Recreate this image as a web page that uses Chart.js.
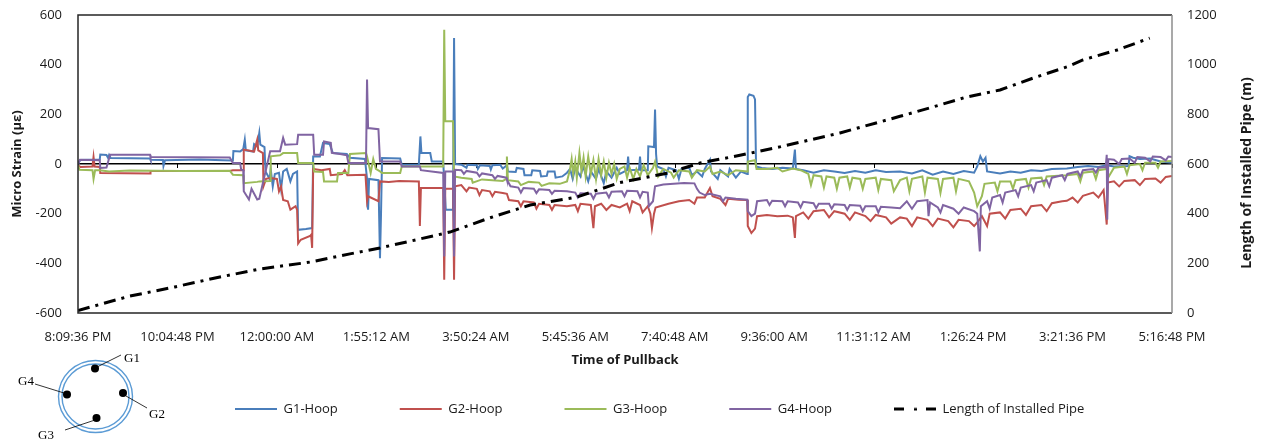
<!DOCTYPE html>
<html>
<head>
<meta charset="utf-8">
<script src="https://cdn.jsdelivr.net/npm/chart.js@4.4.1/dist/chart.umd.min.js"></script>
<style>
  body { margin: 0; background: #fff; }
  #wrap { position: relative; width: 1267px; height: 441px; }
  #pipe { position: absolute; left: 0; top: 0; }
</style>
</head>
<body>
<div id="wrap">
  <canvas id="pullback" width="1267" height="441"></canvas>
  <svg id="pipe" width="200" height="441" font-family="'Liberation Serif', serif" font-size="13">
    <ellipse cx="95.5" cy="396.5" rx="37" ry="36" fill="none" stroke="#5b9bd5" stroke-width="1.4"/>
    <ellipse cx="95.5" cy="396.5" rx="33.5" ry="32.5" fill="none" stroke="#5b9bd5" stroke-width="1.4"/>
    <circle cx="95" cy="368.5" r="4" fill="#000"/>
    <circle cx="123" cy="393" r="4" fill="#000"/>
    <circle cx="96.5" cy="418" r="4" fill="#000"/>
    <circle cx="67" cy="394.5" r="4" fill="#000"/>
    <g stroke="#000" stroke-width="0.8">
      <line x1="97" y1="367" x2="121" y2="355"/>
      <line x1="126" y1="396" x2="147" y2="408"/>
      <line x1="95" y1="420" x2="65" y2="430"/>
      <line x1="64" y1="393" x2="35" y2="384"/>
    </g>
    <text x="124" y="362">G1</text>
    <text x="149" y="418">G2</text>
    <text x="38" y="439">G3</text>
    <text x="18" y="385">G4</text>
  </svg>
</div>
<script>
// time axis: hours elapsed since 8:09:36 PM (20.16 h)
const startHour = 20.16;
const timeStep = 1.92;   // 1:55:12 between labels
const timeSpan = 21.12;

// [elapsed hours, micro strain]
const g1Hoop = [
  [0.00, 0], [0.04, 16], [0.42, 18], [0.43, 38], [0.55, 36], [0.58, 25], [0.60, 36], [0.63, 24],
  [1.39, 22], [1.40, 17], [1.64, 16], [1.65, -8], [1.68, 15], [2.36, 18], [2.80, 15], [2.99, 14],
  [3.00, 52], [3.13, 50], [3.19, 60], [3.22, 98], [3.24, 55], [3.38, 50], [3.40, 80], [3.46, 70],
  [3.50, 125], [3.52, 78], [3.60, 68], [3.62, -30], [3.70, -60], [3.72, -20], [3.76, -90], [3.80, -40],
  [3.88, -35], [3.92, -100], [3.96, -30], [4.03, -20], [4.10, -70], [4.15, -40], [4.23, -30],
  [4.25, -265], [4.40, -262], [4.52, -258], [4.54, 30], [4.67, 30], [4.73, 85], [4.86, 80], [4.92, 44],
  [5.19, 40], [5.25, 25], [5.54, 20], [5.58, -60], [5.60, -184], [5.62, -60], [5.80, -65], [5.83, -379],
  [5.85, -200], [5.87, 24], [6.22, 22], [6.25, -3], [6.58, -3], [6.61, 111], [6.63, 44], [6.80, 44],
  [6.83, 10], [7.05, 10], [7.10, -184], [7.24, -184], [7.26, 507], [7.28, 0], [7.40, -3], [7.50, -15],
  [7.52, -3], [7.70, -5], [7.72, -20], [7.76, -5], [7.95, -8], [7.97, -22], [8.00, -5], [8.15, -3],
  [8.20, -18], [8.28, -5], [8.30, -30], [8.45, -32], [8.47, -16], [8.60, -20], [8.62, -45], [8.75, -45],
  [8.77, -25], [8.92, -28], [8.94, -50], [9.05, -48], [9.07, -30], [9.20, -30], [9.22, -55], [9.35, -50],
  [9.44, -35], [9.50, -20], [9.55, -60], [9.60, -15], [9.70, -50], [9.75, -10], [9.85, -70], [9.90, -30],
  [10.00, -60], [10.05, -20], [10.15, -77], [10.20, -30], [10.30, -55], [10.40, -15], [10.46, -40],
  [10.60, -25], [10.62, 30], [10.64, -25], [10.83, -23], [10.85, 30], [10.87, -25], [11.00, -25],
  [11.01, 71], [11.12, 68], [11.14, 219], [11.16, 40], [11.18, -10], [11.30, -20], [11.35, -50],
  [11.40, -15], [11.55, -25], [11.60, -60], [11.65, -20], [11.80, -15], [11.85, -45], [11.95, -30],
  [12.05, -50], [12.10, -20], [12.20, 17], [12.22, -30], [12.35, -60], [12.40, -25], [12.55, -50],
  [12.58, -20], [12.70, -55], [12.80, -30], [12.92, -40], [12.93, 270], [12.96, 280], [13.04, 275],
  [13.07, 260], [13.09, -10], [13.20, -16], [13.40, -20], [13.60, -15], [13.80, -18], [13.84, 58],
  [13.86, -20], [14.00, -25], [14.20, -35], [14.40, -25], [14.60, -30], [14.80, -36], [15.00, -28],
  [15.20, -35], [15.40, -25], [15.60, -32], [15.87, -30], [16.10, -38], [16.30, -25], [16.50, -43],
  [16.70, -30], [16.90, -40], [17.10, -28], [17.30, -35], [17.36, -10], [17.42, 31], [17.47, 10],
  [17.52, 25], [17.55, -30], [17.80, -38], [18.00, -30], [18.20, -35], [18.40, -25], [18.60, -28],
  [18.80, -20], [19.09, -18], [19.30, -12], [19.50, -8], [19.70, -12], [19.86, -5], [20.00, -10],
  [20.28, -8], [20.30, 31], [20.37, 25], [20.50, 20], [20.70, 22], [20.90, 10], [21.12, 5]
];

const g2Hoop = [
  [0.00, -5], [0.05, -12], [0.28, -10], [0.30, 28], [0.32, -10], [0.42, -12], [0.43, -36], [1.39, -38],
  [1.40, -28], [2.93, -28], [2.99, -25], [3.19, -25], [3.20, 58], [3.40, 50], [3.46, 98], [3.48, 55],
  [3.57, 44], [3.58, -90], [3.63, -60], [3.71, -56], [3.84, -60], [3.88, -110], [3.92, -90], [3.96, -145],
  [4.05, -150], [4.10, -184], [4.20, -170], [4.23, -185], [4.25, -320], [4.30, -305], [4.48, -290],
  [4.50, -285], [4.52, -338], [4.54, -20], [4.70, -25], [4.86, -20], [4.88, -45], [5.10, -40],
  [5.15, -25], [5.20, -45], [5.55, -43], [5.58, -150], [5.60, -130], [5.80, -150], [5.83, -70],
  [6.00, -72], [6.20, -68], [6.58, -70], [6.60, -250], [6.62, -97], [7.05, -97], [7.07, -466],
  [7.09, -100], [7.24, -100], [7.26, -466], [7.28, -90], [7.40, -85], [7.50, -110], [7.55, -95],
  [7.70, -100], [7.75, -125], [7.80, -105], [7.95, -110], [8.00, -130], [8.05, -112], [8.20, -117],
  [8.28, -120], [8.32, -145], [8.50, -150], [8.55, -170], [8.60, -150], [8.80, -155], [8.85, -180],
  [8.90, -160], [9.10, -165], [9.15, -185], [9.20, -165], [9.44, -170], [9.60, -165], [9.65, -190],
  [9.70, -160], [9.90, -165], [9.95, -258], [9.98, -170], [10.10, -160], [10.20, -185], [10.30, -165],
  [10.46, -175], [10.60, -160], [10.65, -190], [10.70, -150], [10.85, -165], [10.90, -195], [11.00, -170],
  [11.05, -200], [11.08, -258], [11.12, -200], [11.15, -175], [11.40, -160], [11.60, -150], [11.80, -145],
  [11.90, -160], [11.95, -135], [12.10, -135], [12.20, -97], [12.25, -130], [12.40, -140], [12.50, -165],
  [12.55, -140], [12.75, -144], [12.92, -145], [12.93, -250], [13.00, -278], [13.07, -260], [13.11, -210],
  [13.30, -205], [13.50, -210], [13.70, -208], [13.80, -215], [13.84, -298], [13.86, -210], [14.00, -195],
  [14.10, -220], [14.20, -190], [14.40, -185], [14.50, -215], [14.60, -190], [14.80, -200], [14.90, -225],
  [15.00, -195], [15.20, -210], [15.30, -230], [15.40, -205], [15.60, -215], [15.70, -240], [15.87, -215],
  [16.00, -220], [16.10, -250], [16.20, -215], [16.40, -225], [16.50, -250], [16.60, -220], [16.80, -230],
  [16.90, -255], [17.00, -225], [17.20, -230], [17.30, -250], [17.36, -235], [17.45, -210], [17.55, -250],
  [17.60, -200], [17.80, -195], [17.90, -220], [18.00, -185], [18.20, -180], [18.30, -205], [18.40, -170],
  [18.60, -165], [18.70, -190], [18.80, -158], [19.00, -150], [19.09, -148], [19.20, -135], [19.30, -155],
  [19.40, -128], [19.60, -115], [19.70, -135], [19.80, -105], [19.86, -244], [19.88, -75], [20.00, -70],
  [20.10, -90], [20.20, -68], [20.40, -65], [20.50, -85], [20.60, -60], [20.80, -58], [20.90, -75],
  [21.00, -52], [21.12, -48]
];

const g3Hoop = [
  [0.00, -5], [0.03, -23], [0.28, -25], [0.30, -60], [0.33, -25], [0.42, -25], [0.60, -30], [1.00, -26],
  [2.00, -28], [2.93, -27], [2.99, -43], [3.19, -45], [3.20, -77], [3.46, -72], [3.50, -70], [3.71, -68],
  [3.72, 31], [3.90, 35], [3.96, 44], [4.23, 44], [4.25, 4], [4.54, 4], [4.56, -30], [4.73, -32],
  [4.75, -70], [5.00, -70], [5.02, -36], [5.22, -36], [5.25, 40], [5.56, 44], [5.58, 30], [5.65, -36],
  [5.70, 20], [5.75, -20], [5.83, -30], [5.87, -36], [6.22, -36], [6.25, -10], [7.05, -10], [7.07, 541],
  [7.09, 172], [7.24, 172], [7.26, -50], [7.40, -55], [7.60, -60], [7.62, -75], [7.80, -62], [8.00, -65],
  [8.20, -68], [8.27, -60], [8.28, 30], [8.30, -65], [8.50, -70], [8.55, -85], [8.70, -72], [8.90, -75],
  [8.95, -88], [9.10, -78], [9.30, -80], [9.44, -70], [9.50, -20], [9.53, 20], [9.56, -40], [9.60, 10],
  [9.63, -55], [9.68, 44], [9.72, -30], [9.76, 25], [9.80, -50], [9.85, 30], [9.90, -40], [9.95, 15],
  [10.00, -60], [10.05, 20], [10.10, -45], [10.15, 10], [10.20, -55], [10.25, 5], [10.30, -40], [10.35, 0],
  [10.40, -60], [10.46, -20], [10.55, -10], [10.60, -55], [10.65, -15], [10.72, -60], [10.78, -20],
  [10.85, -50], [10.92, -5], [11.00, -45], [11.10, -15], [11.14, 10], [11.20, -50], [11.30, -20],
  [11.45, -35], [11.50, -55], [11.60, -25], [11.80, -30], [11.85, -55], [11.95, -25], [12.10, -30],
  [12.20, -10], [12.25, -40], [12.40, -30], [12.55, -45], [12.70, -25], [12.92, -30], [12.93, 10],
  [13.07, 15], [13.10, -20], [13.30, -20], [13.50, -15], [13.60, -30], [13.80, -18], [13.95, -25],
  [14.10, -40], [14.15, -85], [14.20, -45], [14.35, -50], [14.40, -95], [14.45, -50], [14.60, -55],
  [14.65, -100], [14.70, -55], [14.85, -50], [14.90, -95], [14.95, -55], [15.10, -60], [15.15, -100],
  [15.20, -60], [15.40, -55], [15.45, -105], [15.50, -60], [15.70, -65], [15.75, -110], [15.87, -65],
  [16.00, -55], [16.05, -110], [16.10, -60], [16.30, -50], [16.35, -115], [16.40, -55], [16.60, -60],
  [16.65, -117], [16.70, -60], [16.90, -55], [16.95, -110], [17.00, -60], [17.20, -70], [17.30, -115],
  [17.36, -170], [17.45, -130], [17.50, -80], [17.70, -75], [17.75, -110], [17.80, -70], [18.00, -70],
  [18.05, -100], [18.10, -65], [18.30, -60], [18.35, -95], [18.40, -58], [18.60, -55], [18.65, -85],
  [18.70, -50], [19.09, -45], [19.30, -40], [19.35, -70], [19.40, -35], [19.60, -30], [19.65, -60],
  [19.70, -25], [19.86, -20], [19.90, -50], [20.00, -15], [20.20, -10], [20.25, -40], [20.30, -5],
  [20.50, 0], [20.55, -25], [20.60, 5], [20.80, 5], [20.85, -15], [20.90, 10], [21.12, 12]
];

const g4Hoop = [
  [0.00, 0], [0.04, 17], [0.42, 15], [0.43, -16], [0.55, -14], [0.62, 37], [1.39, 37], [1.40, 28],
  [2.93, 26], [2.99, 4], [3.13, 4], [3.15, -23], [3.19, -25], [3.20, -110], [3.30, -143], [3.35, -100],
  [3.46, -143], [3.50, -140], [3.71, 51], [3.90, 51], [3.96, 105], [4.00, 78], [4.23, 80], [4.25, 118],
  [4.54, 118], [4.56, 37], [4.73, 37], [4.75, 91], [4.88, 85], [4.90, 45], [5.06, 40], [5.19, 35],
  [5.22, 4], [5.56, 4], [5.58, 340], [5.60, 145], [5.80, 140], [5.83, 10], [6.22, 10], [6.25, -10],
  [6.60, -10], [6.62, -25], [7.05, -36], [7.07, -372], [7.09, -30], [7.24, -30], [7.26, -372], [7.28, -23],
  [7.40, -25], [7.45, -40], [7.50, -28], [7.70, -35], [7.75, -50], [7.80, -38], [8.00, -45], [8.05, -60],
  [8.10, -48], [8.27, -55], [8.28, -63], [8.35, -90], [8.50, -95], [8.55, -115], [8.60, -97], [8.80, -100],
  [8.85, -117], [8.90, -102], [9.10, -105], [9.15, -120], [9.20, -108], [9.44, -110], [9.60, -115],
  [9.65, -135], [9.70, -118], [9.90, -120], [9.95, -140], [10.00, -120], [10.20, -115], [10.25, -135],
  [10.30, -112], [10.50, -110], [10.55, -130], [10.60, -108], [10.80, -110], [10.85, -135], [10.90, -112],
  [11.00, -115], [11.02, -170], [11.10, -150], [11.14, -90], [11.30, -83], [11.50, -80], [11.70, -77],
  [11.90, -78], [11.95, -100], [12.00, -115], [12.10, -125], [12.20, -120], [12.40, -130], [12.45, -150],
  [12.50, -135], [12.70, -140], [12.92, -144], [12.93, -190], [13.00, -210], [13.07, -200], [13.11, -150],
  [13.30, -145], [13.35, -165], [13.40, -148], [13.60, -150], [13.65, -170], [13.70, -150], [13.90, -155],
  [13.95, -175], [14.00, -152], [14.20, -158], [14.25, -178], [14.30, -160], [14.50, -160], [14.55, -180],
  [14.60, -162], [14.80, -165], [14.85, -185], [14.90, -165], [15.10, -168], [15.15, -190], [15.20, -170],
  [15.40, -170], [15.45, -195], [15.50, -172], [15.70, -175], [15.87, -178], [16.00, -150], [16.10, -180],
  [16.20, -150], [16.40, -145], [16.42, -210], [16.45, -155], [16.60, -175], [16.65, -195], [16.70, -165],
  [16.90, -180], [17.00, -200], [17.10, -175], [17.30, -190], [17.36, -200], [17.41, -352], [17.43, -170],
  [17.55, -150], [17.60, -180], [17.65, -135], [17.80, -125], [17.85, -155], [17.90, -115], [18.10, -105],
  [18.15, -130], [18.20, -95], [18.40, -85], [18.45, -110], [18.50, -75], [18.70, -65], [18.75, -90],
  [18.80, -55], [19.00, -45], [19.05, -65], [19.10, -40], [19.30, -30], [19.35, -50], [19.40, -25],
  [19.60, -20], [19.65, -35], [19.70, -15], [19.84, -12], [19.86, 37], [19.87, -224], [19.89, 20],
  [20.00, 17], [20.10, 0], [20.15, 20], [20.30, 22], [20.40, 5], [20.45, 28], [20.60, 25], [20.70, 10],
  [20.75, 30], [20.90, 28], [21.00, 15], [21.05, 30], [21.12, 28]
];

// [elapsed hours, metres of pipe installed]
const pipeLength = [
  [0.00, 10], [1.00, 68], [1.87, 105], [2.74, 145], [3.51, 177], [4.48, 205], [5.25, 238], [5.83, 262],
  [6.60, 298], [7.18, 326], [7.95, 383], [8.73, 435], [9.63, 467], [10.46, 525], [11.37, 563], [12.01, 604],
  [12.78, 635], [13.55, 669], [14.71, 725], [15.87, 792], [16.51, 830], [17.16, 870], [17.80, 898],
  [18.44, 946], [19.09, 991], [19.40, 1019], [20.06, 1059], [20.69, 1107]
];

const seriesNames = ['G1-Hoop', 'G2-Hoop', 'G3-Hoop', 'G4-Hoop', 'Length of Installed Pipe'];
const seriesColors = ['#4a7ebb', '#c0504d', '#9bbb59', '#8064a2', '#000000'];

function pad2(n) { return (n < 10 ? '0' : '') + n; }
function clock(h) {
  const s = Math.round((startHour + h) * 3600) % 86400;
  const hh = Math.floor(s / 3600), mm = Math.floor((s % 3600) / 60), ss = s % 60;
  const h12 = hh % 12 === 0 ? 12 : hh % 12;
  return h12 + ':' + pad2(mm) + ':' + pad2(ss) + ' ' + (hh < 12 ? 'AM' : 'PM');
}
const toXY = arr => arr.map(p => ({ x: p[0], y: p[1] }));

// legend swatch for the dash-dot pipe line
const dashIcon = document.createElement('canvas');
dashIcon.width = 42; dashIcon.height = 5;
(function () {
  const c = dashIcon.getContext('2d');
  c.fillStyle = '#000';
  c.fillRect(0, 1, 10, 3);
  c.fillRect(20, 1.5, 3, 2.5);
  c.fillRect(32, 1, 10, 3);
})();

Chart.defaults.font.family = "'Open Sans', sans-serif";
Chart.defaults.font.size = 13;
Chart.defaults.color = '#1a1a1a';

const frame = {
  id: 'frame',
  afterLayout(chart) {
    // legend sits to the right of the pipe sketch
    const lg = chart.legend;
    const h = lg.height;
    lg.left = 173; lg.right = 1267;
    lg.top = 340.5; lg.bottom = lg.top + h;
  },
  beforeDatasetsDraw(chart) {
    const { ctx, scales } = chart;
    const y0 = scales.y.getPixelForValue(0);
    ctx.save();
    ctx.strokeStyle = '#000';
    ctx.lineWidth = 1;
    scales.x.ticks.forEach(t => {
      const px = Math.round(scales.x.getPixelForValue(t.value)) + 0.5;
      ctx.beginPath(); ctx.moveTo(px, y0); ctx.lineTo(px, y0 + 4); ctx.stroke();
    });
    ctx.restore();
  },
  afterDatasetsDraw(chart) {
    const { ctx, chartArea: a } = chart;
    ctx.save();
    ctx.lineWidth = 1.5;
    ctx.strokeStyle = '#262626';
    ctx.beginPath();
    ctx.moveTo(a.right, a.top); ctx.lineTo(a.left, a.top); ctx.lineTo(a.left, a.bottom); ctx.lineTo(a.right, a.bottom);
    ctx.stroke();
    ctx.strokeStyle = '#8c8c8c';
    ctx.beginPath(); ctx.moveTo(a.right, a.top); ctx.lineTo(a.right, a.bottom); ctx.stroke();
    // right axis title reads bottom to top
    ctx.fillStyle = '#1a1a1a';
    ctx.font = "bold 14px 'Open Sans', sans-serif";
    ctx.textAlign = 'center';
    ctx.textBaseline = 'middle';
    ctx.translate(1247, 173);
    ctx.rotate(-Math.PI / 2);
    ctx.fillText('Length of Installed Pipe (m)', 0, 0);
    ctx.restore();
  }
};

const strainSets = [g1Hoop, g2Hoop, g3Hoop, g4Hoop].map((d, i) => ({
  label: seriesNames[i],
  data: toXY(d),
  borderColor: seriesColors[i],
  backgroundColor: seriesColors[i],
  borderWidth: 2,
  yAxisID: 'y',
  order: 4 - i
}));

new Chart(document.getElementById('pullback'), {
  type: 'line',
  data: {
    datasets: strainSets.concat([{
      label: seriesNames[4],
      data: toXY(pipeLength),
      borderColor: seriesColors[4],
      backgroundColor: seriesColors[4],
      borderWidth: 3,
      borderDash: [12, 6, 3, 6],
      yAxisID: 'y2',
      order: 0
    }])
  },
  options: {
    responsive: false,
    animation: false,
    layout: { padding: { left: 5, right: 0, top: 15, bottom: 0 } },
    elements: { point: { radius: 0 }, line: { tension: 0 } },
    scales: {
      x: {
        type: 'linear',
        min: 0,
        max: timeSpan,
        grid: { display: false, drawTicks: false },
        border: { display: false },
        ticks: { stepSize: timeStep, padding: 16, maxRotation: 0, autoSkip: false, callback: v => clock(v) },
        title: { display: true, text: 'Time of Pullback', font: { weight: 'bold', size: 13 }, padding: { top: 0, bottom: -12 } },
        afterFit: s => { s.height = 441 - 313 - (s.chart.legend ? s.chart.legend.height : 0); }
      },
      y: {
        position: 'left',
        min: -600,
        max: 600,
        // invisible tick marks give the label gap without padding the plot top
        grid: {
          drawTicks: true,
          tickLength: 16,
          tickColor: 'rgba(0,0,0,0)',
          color: c => (c.tick && c.tick.value === 0 ? '#000' : 'rgba(0,0,0,0)'),
          lineWidth: 1.5
        },
        border: { display: false },
        ticks: { stepSize: 200, padding: 0, callback: v => String(v) },
        title: { display: true, text: 'Micro Strain (µε)', font: { weight: 'bold', size: 13 }, padding: { top: 4, bottom: 0 } },
        afterFit: s => { s.width = 73; }
      },
      y2: {
        position: 'right',
        min: 0,
        max: 1200,
        grid: { display: true, drawOnChartArea: false, drawTicks: true, tickLength: 15, tickColor: 'rgba(0,0,0,0)', color: 'rgba(0,0,0,0)' },
        border: { display: false },
        ticks: { stepSize: 200, padding: 0, callback: v => String(v) },
        afterFit: s => { s.width = 95; }
      }
    },
    plugins: {
      tooltip: { enabled: false },
      legend: {
        position: 'bottom',
        align: 'start',
        labels: {
          usePointStyle: true,
          pointStyle: 'line',
          pointStyleWidth: 42,
          padding: 62,
          color: '#1a1a1a',
          sort: (a, b) => a.datasetIndex - b.datasetIndex,
          generateLabels: chart => {
            const items = Chart.defaults.plugins.legend.labels.generateLabels(chart);
            items.forEach(it => { if (it.datasetIndex === 4) it.pointStyle = dashIcon; });
            return items;
          }
        }
      }
    }
  },
  plugins: [frame]
});
</script>
</body>
</html>
